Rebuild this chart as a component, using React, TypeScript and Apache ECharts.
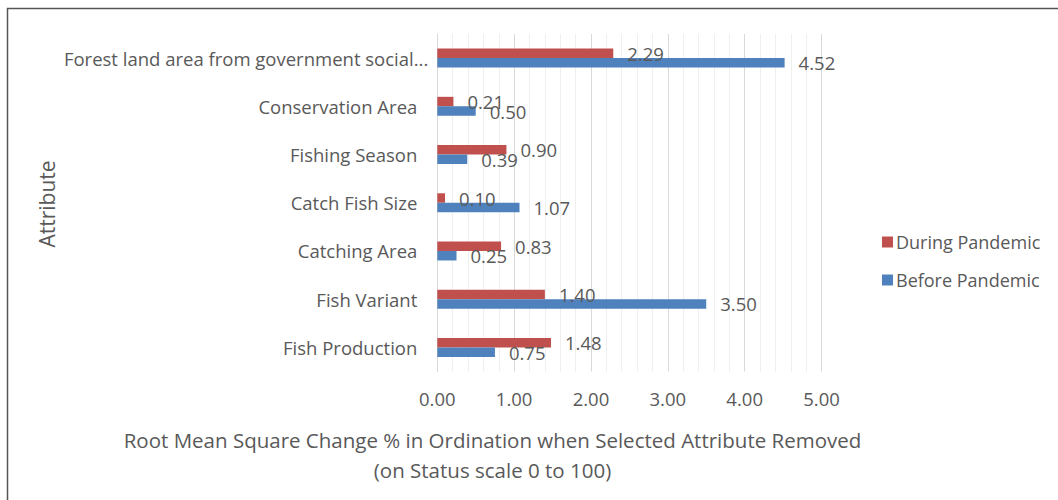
import React, { useEffect, useRef } from "react";
import * as echarts from "echarts";

const categories = [
  "Fish Production",
  "Fish Variant",
  "Catching Area",
  "Catch Fish Size",
  "Fishing Season",
  "Conservation Area",
  "Forest land area from government social...",
];
const duringPandemic = [1.48, 1.4, 0.83, 0.1, 0.9, 0.21, 2.29];
const beforePandemic = [0.75, 3.5, 0.25, 1.07, 0.39, 0.5, 4.52];
const seriesNames = ["During Pandemic", "Before Pandemic"];
const xTitleLines = [
  "Root Mean Square Change % in Ordination when Selected Attribute Removed",
  "(on Status scale 0 to 100)",
];
const yTitle = "Attribute";

const FONT = "'Open Sans', sans-serif";
const TEXT = "#595959";
const RED = "#C0504D";
const BLUE = "#4F81BD";

export default function App() {
  const ref = useRef<HTMLDivElement>(null);
  useEffect(() => {
    if (!ref.current) return;
    const chart = echarts.init(ref.current, null, { renderer: "svg" });
    const labelCfg = {
      show: true,
      position: "right",
      distance: 14,
      fontSize: 18.5,
      fontFamily: FONT,
      color: TEXT,
      formatter: (p: any) => Number(p.value).toFixed(2),
    };
    chart.setOption({
      animation: false,
      backgroundColor: "#ffffff",
      textStyle: { fontFamily: FONT, color: TEXT },
      grid: { left: 437.3, right: 236.5, top: 34, bottom: 128.5, containLabel: false },
      legend: {
        data: seriesNames,
        orient: "vertical",
        left: 877,
        top: 228,
        icon: "rect",
        itemWidth: 11,
        itemHeight: 11,
        itemGap: 20,
        textStyle: { fontSize: 18, fontFamily: FONT, color: TEXT, lineHeight: 18, padding: [0, 0, 0, -2] },
      },
      xAxis: {
        type: "value",
        min: 0,
        max: 5,
        interval: 1,
        axisLine: { show: false },
        axisTick: { show: false },
        axisLabel: {
          fontSize: 18.5,
          fontFamily: FONT,
          color: TEXT,
          margin: 17,
          formatter: (v: number) => v.toFixed(2),
        },
        splitLine: { show: true, lineStyle: { color: "#D9D9D9", width: 1 } },
        minorTick: { show: false, splitNumber: 5 },
        minorSplitLine: { show: true, lineStyle: { color: "#EFEFEF", width: 1 } },
      },
      yAxis: {
        type: "category",
        data: categories,
        axisLine: { show: true, lineStyle: { color: "#D9D9D9" } },
        axisTick: { show: false },
        axisLabel: {
          fontSize: 18.5,
          fontFamily: FONT,
          color: TEXT,
          margin: 9,
          formatter: (v: string) =>
            v.startsWith("Forest") ? `{f|${v}}` : `{a|${v}}`,
          rich: {
            a: { fontSize: 18.5, fontFamily: FONT, color: TEXT, padding: [0, 11, 0, 0] },
            f: { fontSize: 18.5, fontFamily: FONT, color: TEXT },
          },
        },
      },
      series: [
        {
          name: seriesNames[0],
          type: "bar",
          data: duringPandemic,
          barWidth: 9.5,
          barGap: "0%",
          itemStyle: { color: RED },
          label: labelCfg,
        },
        {
          name: seriesNames[1],
          type: "bar",
          data: beforePandemic,
          barWidth: 9.5,
          barGap: "0%",
          itemStyle: { color: BLUE },
          label: labelCfg,
        },
      ],
      graphic: [
        {
          type: "rect",
          silent: true,
          shape: { x: 7.5, y: 8.5, width: 1200, height: 700 },
          style: { fill: "none", stroke: "#555555", lineWidth: 1.5 },
        },
        {
          type: "text",
          x: 47,
          y: 204,
          rotation: Math.PI / 2,
          style: {
            text: yTitle,
            fontSize: 21,
            fontFamily: FONT,
            fill: TEXT,
            textAlign: "center",
            textVerticalAlign: "middle",
          },
        },
        {
          type: "text",
          x: 492.5,
          y: 455,
          style: {
            text: xTitleLines.join("\n"),
            fontSize: 20.5,
            lineHeight: 30,
            fontFamily: FONT,
            fill: TEXT,
            textAlign: "center",
            textVerticalAlign: "middle",
          },
        },
      ],
    });
    return () => chart.dispose();
  }, []);
  return (
    <div
      ref={ref}
      style={{ position: "fixed", left: 0, top: 0, width: 1058, height: 500 }}
    />
  );
}
